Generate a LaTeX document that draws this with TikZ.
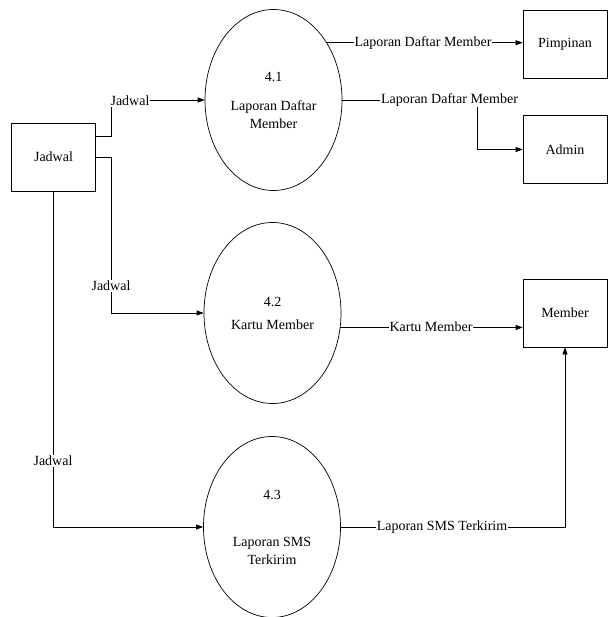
\documentclass[tikz,border=0pt]{standalone}
\usepackage{fontspec}
\setmainfont{Liberation Serif}
\usetikzlibrary{arrows.meta,shapes.geometric}
\begin{document}
\begin{tikzpicture}[x=1pt,y=-1pt,
  every node/.style={font=\fontsize{14}{18}\selectfont},
  proc/.style={draw,ellipse,line width=0.7pt,minimum width=137pt,minimum height=181pt,inner sep=0pt,align=center},
  ent/.style={draw,rectangle,line width=0.7pt,minimum width=84pt,minimum height=68pt,inner sep=0pt},
  flow/.style={line width=0.7pt},
  arr/.style={flow,-{Triangle[length=7pt,width=5pt]}},
  lbl/.style={fill=white,inner sep=1pt}]
\useasboundingbox (0,0) rectangle (615,617);
% entities
\node[ent] (jad) at (53.5,157) {Jadwal};
\node[ent] (pim) at (565,44) {Pimpinan};
\node[ent] (adm) at (565,149.5) {Admin};
\node[ent] (mem) at (565,313) {Member};
% processes
\node[proc] (p41) at (273.5,100) {4.1\\[11pt]Laporan Daftar\\Member};
\node[proc] (p42) at (272.5,313) {4.2\\[5pt]Kartu Member};
\node[proc] (p43) at (272,527) {4.3\\[29pt]Laporan SMS\\Terkirim};
% corner coordinates
\coordinate (c1a) at (111,136);
\coordinate (c2a) at (111,157);
\coordinate (c5) at (477,100);
% Jadwal -> 4.1
\draw[arr] (jad.east |- c1a) -- (c1a) |- (p41.west);
\node[lbl] (l1) at (130,101) {Jadwal};
% Jadwal -> 4.2
\draw[arr] (jad.east |- c2a) -- (c2a) |- (p42.west);
\node[lbl] (l2) at (111,286) {Jadwal};
% Jadwal -> 4.3
\draw[arr] (jad.south) |- (p43.west);
\node[lbl] (l3) at (53,461) {Jadwal};
% 4.1 -> Pimpinan
\draw[arr] (p41.47) -- (p41.47 -| pim.west);
\node[lbl] (l4) at (423,43) {Laporan Daftar Member};
% 4.1 -> Admin
\draw[arr] (p41.east) -- (c5) |- (adm.west);
\node[lbl] (l5) at (449.5,100) {Laporan Daftar Member};
% 4.2 -> Member
\draw[arr] (p42.-12) -- (p42.-12 -| mem.west);
\node[lbl] (l6) at (431,327) {Kartu Member};
% 4.3 -> Member
\draw[arr] (p43.east) -| (mem.south);
\node[lbl] (l7) at (442,527) {Laporan SMS Terkirim};
\end{tikzpicture}
\end{document}
